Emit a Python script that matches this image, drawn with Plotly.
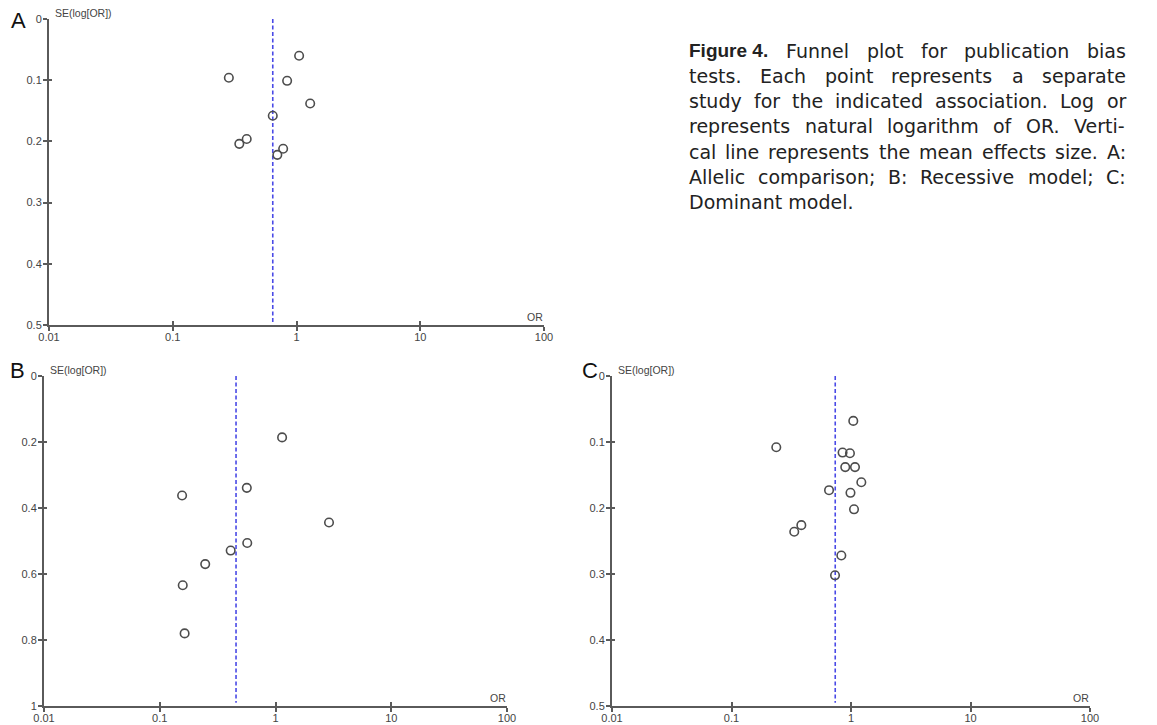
import plotly.graph_objects as go

W, H = 1157, 725
OFF = 8  # page body margin shift of the rendered figure

# ---------------- data ----------------
A_or = [1.05, 0.284, 0.84, 1.29, 0.643, 0.396, 0.345, 0.78, 0.70]
A_se = [0.060, 0.096, 0.101, 0.138, 0.158, 0.196, 0.204, 0.212, 0.222]
A_mean = 0.643

B_or = [1.14, 0.565, 0.156, 2.9, 0.57, 0.41, 0.247, 0.158, 0.164]
B_se = [0.186, 0.339, 0.362, 0.444, 0.506, 0.529, 0.570, 0.634, 0.780]
B_mean = 0.456

C_or = [1.045, 0.237, 0.85, 0.98, 0.895, 1.08, 1.22, 0.655, 0.99, 1.06, 0.384, 0.335, 0.83, 0.735]
C_se = [0.068, 0.108, 0.116, 0.117, 0.138, 0.138, 0.161, 0.173, 0.177, 0.202, 0.226, 0.236, 0.272, 0.302]
C_mean = 0.738

x_tickvals = [0.01, 0.1, 1, 10, 100]
x_ticktext = ["0.01", "0.1", "1", "10", "100"]
yA_tickvals = [0, 0.1, 0.2, 0.3, 0.4, 0.5]
yA_ticktext = ["0", "0.1", "0.2", "0.3", "0.4", "0.5"]
yB_tickvals = [0, 0.2, 0.4, 0.6, 0.8, 1]
yB_ticktext = ["0", "0.2", "0.4", "0.6", "0.8", "1"]

caption_lines = [
    ["Figure 4.", "Funnel", "plot", "for", "publication", "bias"],
    ["tests.", "Each", "point", "represents", "a", "separate"],
    ["study", "for", "the", "indicated", "association.", "Log", "or"],
    ["represents", "natural", "logarithm", "of", "OR.", "Verti-"],
    ["cal", "line", "represents", "the", "mean", "effects", "size.", "A:"],
    ["Allelic", "comparison;", "B:", "Recessive", "model;", "C:"],
    ["Dominant model."],
]
caption_bold = {"Figure 4."}


def fx(px):
    return (px - OFF) / W


def fy(py):
    return 1 - (py - OFF) / H


# approximate advance widths (em) used to justify the caption block
DEJAVU = {" ": .318, "a": .613, "b": .635, "c": .550, "d": .635, "e": .615, "f": .352, "g": .635,
          "h": .634, "i": .278, "j": .278, "k": .579, "l": .278, "m": .974, "n": .634, "o": .612,
          "p": .635, "q": .635, "r": .411, "s": .521, "t": .392, "u": .634, "v": .592, "w": .818,
          "x": .592, "y": .592, "z": .525, "A": .684, "B": .686, "C": .698, "D": .770, "E": .632,
          "F": .575, "L": .557, "O": .787, "R": .695, "V": .684, ".": .318, ";": .337, ":": .337,
          "-": .361}
LIB_BOLD = {" ": .278, "F": .611, "i": .278, "g": .611, "u": .611, "r": .389, "e": .556, "4": .556,
            ".": .278}

CAP_SIZE = 19
CAP_LEFT, CAP_RIGHT = 687, 1124
CAP_Y0, CAP_PITCH = 50.7, 25.2


def word_width(w):
    table = LIB_BOLD if w in caption_bold else DEJAVU
    return sum(table.get(ch, 0.6) for ch in w) * CAP_SIZE


# ---------------- layout geometry (reference pixels) ----------------
panels = [
    dict(k="", ors=A_or, ses=A_se, mean=A_mean, ymax=0.5, tv=yA_tickvals, tt=yA_ticktext,
         x0=49, x1=544, yt=19, yb=325, letter="A", lx=18, ly=20.5),
    dict(k="2", ors=B_or, ses=B_se, mean=B_mean, ymax=1.0, tv=yB_tickvals, tt=yB_ticktext,
         x0=44, x1=507, yt=376, yb=706, letter="B", lx=17, ly=370),
    dict(k="3", ors=C_or, ses=C_se, mean=C_mean, ymax=0.5, tv=yA_tickvals, tt=yA_ticktext,
         x0=612, x1=1090, yt=376, yb=706, letter="C", lx=590, ly=370),
]

FONT = "Liberation Sans, Arial, sans-serif"
CAP_FONT = "DejaVu Sans, Liberation Sans, sans-serif"
axis_col = "#5a5a5a"
tick_font = dict(family=FONT, size=11, color="#444444")

fig = go.Figure()
layout = dict(
    template="none",
    width=W, height=H, autosize=False,
    margin=dict(l=0, r=0, t=0, b=0, pad=0),
    paper_bgcolor="white", plot_bgcolor="rgba(0,0,0,0)",
    showlegend=False,
    font=dict(family=FONT, color="#222222"),
)
annotations = []

for i, p in enumerate(panels):
    k = p["k"]
    xa = "x" + k
    ya = "y" + k
    xdom = [fx(p["x0"]), fx(p["x1"])]
    ydom = [fy(p["yb"]), fy(p["yt"])]

    # mean effect line
    fig.add_trace(go.Scatter(
        x=[p["mean"], p["mean"]], y=[0, p["ymax"] * 0.99],
        mode="lines", line=dict(color="#4a4ae6", width=1.6, dash="4px,2.5px"),
        xaxis=xa, yaxis=ya, hoverinfo="skip"))
    # study points
    fig.add_trace(go.Scatter(
        x=p["ors"], y=p["ses"], mode="markers",
        marker=dict(symbol="circle-open", size=8.5, color="#4d4d4d", line=dict(width=1.6, color="#4d4d4d")),
        xaxis=xa, yaxis=ya))

    common_x = dict(type="log", range=[-2, 2], domain=xdom, tickvals=x_tickvals,
                    showgrid=False, zeroline=False, automargin=False)
    common_y = dict(range=[p["ymax"], 0], domain=ydom, tickvals=p["tv"],
                    showgrid=False, zeroline=False, automargin=False)

    layout["xaxis" + k] = dict(**common_x, anchor=ya, ticktext=x_ticktext,
                               showline=True, linecolor=axis_col, linewidth=2,
                               ticks="outside", ticklen=4, tickwidth=2, tickcolor=axis_col,
                               tickfont=tick_font, ticklabelstandoff=-3)
    layout["yaxis" + k] = dict(**common_y, anchor=xa, ticktext=p["tt"],
                               showline=True, linecolor=axis_col, linewidth=2,
                               ticks="outside", ticklen=4, tickwidth=2, tickcolor=axis_col,
                               tickfont=tick_font, ticklabelstandoff=-1)

    # overlay axes giving the inner half of the crossing ticks
    ox = "x" + str(4 + i)
    oy = "y" + str(4 + i)
    layout["xaxis" + str(4 + i)] = dict(**common_x, overlaying=xa, anchor=oy, showline=False,
                                        ticks="inside", ticklen=4, tickwidth=2, tickcolor=axis_col,
                                        showticklabels=False)
    layout["yaxis" + str(4 + i)] = dict(**common_y, overlaying=ya, anchor=ox, showline=False,
                                        ticks="inside", ticklen=3, tickwidth=2, tickcolor=axis_col,
                                        showticklabels=False)
    fig.add_trace(go.Scatter(x=[], y=[], xaxis=ox, yaxis=oy, hoverinfo="skip"))

    # panel letter
    annotations.append(dict(text=p["letter"], x=fx(p["lx"]), y=fy(p["ly"]), xref="paper", yref="paper",
                            xanchor="center", yanchor="middle", showarrow=False,
                            font=dict(family=FONT, size=22, color="#111111")))
    # y-axis title at top
    annotations.append(dict(text="SE(log[OR])", x=fx(p["x0"] + 4), y=fy(p["yt"] - 6),
                            xref="paper", yref="paper", xanchor="left", yanchor="middle", showarrow=False,
                            font=dict(family=FONT, size=10.5, color="#444444")))
    # x-axis title at right end
    annotations.append(dict(text="OR", x=fx(p["x1"] + 1), y=fy(p["yb"] - 8),
                            xref="paper", yref="paper", xanchor="right", yanchor="middle", showarrow=False,
                            font=dict(family=FONT, size=10.5, color="#444444")))

# caption: justified block, one annotation per word
for li, words in enumerate(caption_lines):
    yc = CAP_Y0 + li * CAP_PITCH
    widths = [word_width(w) for w in words]
    last = li == len(caption_lines) - 1
    if last or len(words) == 1:
        gap = DEJAVU[" "] * CAP_SIZE
    else:
        gap = (CAP_RIGHT - CAP_LEFT - sum(widths)) / (len(words) - 1)
    xpos = CAP_LEFT
    for w, wd in zip(words, widths):
        bold = w in caption_bold
        annotations.append(dict(text=f"<b>{w}</b>" if bold else w, x=fx(xpos), y=fy(yc),
                                xref="paper", yref="paper",
                                xanchor="left", yanchor="middle", showarrow=False,
                                font=dict(family=FONT if bold else CAP_FONT, size=CAP_SIZE,
                                          color="#222222")))
        xpos += wd + gap

layout["annotations"] = annotations
fig.update_layout(**layout)
fig.write_html("out.html")
